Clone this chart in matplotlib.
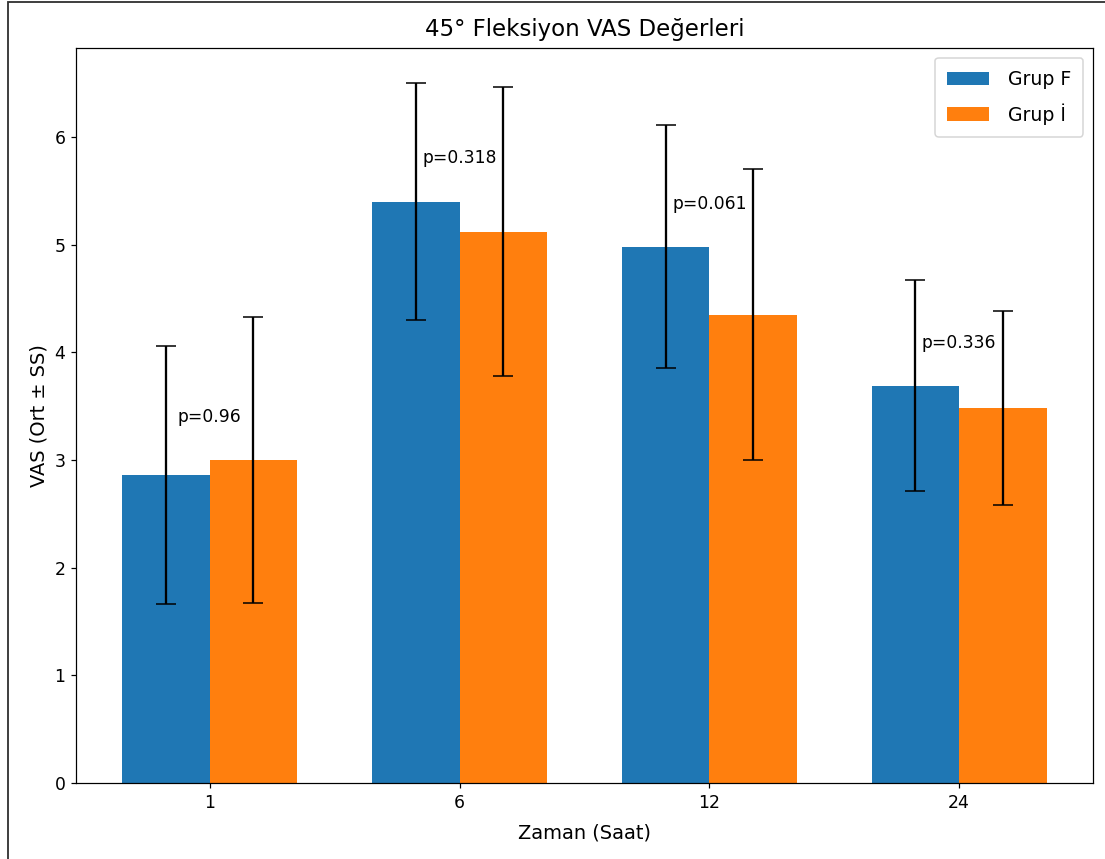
import matplotlib
matplotlib.use("Agg")
import matplotlib.pyplot as plt
import numpy as np

# zaman noktalari (saat)
hours = ["1", "6", "12", "24"]
mean_f = [2.86, 5.40, 4.98, 3.69]
sd_f = [1.20, 1.10, 1.13, 0.98]
mean_i = [3.00, 5.12, 4.35, 3.48]
sd_i = [1.33, 1.34, 1.35, 0.90]
p_vals = ["0.96", "0.318", "0.061", "0.336"]

dpi = 110
fig = plt.figure(figsize=(1105 / dpi, 859 / dpi), dpi=dpi)
ax = fig.add_axes([0.0688, 0.0885, 0.9202, 0.8555])

x = np.arange(len(hours))
w = 0.35
ax.bar(x - w / 2, mean_f, w, yerr=sd_f, capsize=6.5, color="#1f77b4", label="Grup F")
ax.bar(x + w / 2, mean_i, w, yerr=sd_i, capsize=6.5, color="#ff7f0e", label="Grup İ")

for i in range(len(hours)):
    ax.text(x[i], max(mean_f[i], mean_i[i]) + 0.4, "p=" + p_vals[i],
            ha="center", va="center", fontsize=11.2)

ax.set_xticks(x)
ax.set_xticklabels(hours)
ax.tick_params(labelsize=11.3)
ax.set_xlabel("Zaman (Saat)", fontsize=12.7, labelpad=8)
ax.set_ylabel("VAS (Ort ± SS)", fontsize=12.7)
ax.set_title("45° Fleksiyon VAS Değerleri", fontsize=15, pad=8)
ax.legend(loc="upper right", fontsize=12.4, labelspacing=0.75, borderpad=0.65,
          handlelength=2.2, handletextpad=1.0)

# cerceve
fig.patches.append(plt.Rectangle((0.0075, -0.01), 1.1, 1.0077, transform=fig.transFigure,
                                 fill=False, edgecolor="#333333", linewidth=1.2))

fig.savefig("out.png", dpi=dpi)
